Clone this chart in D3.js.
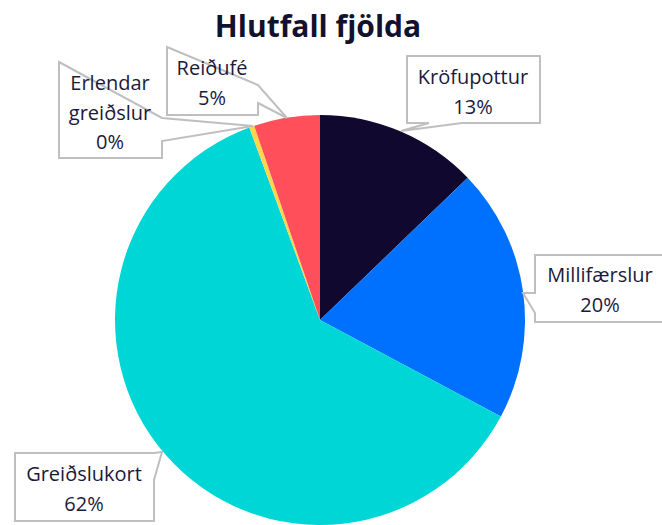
<!DOCTYPE html>
<html>
<head>
<meta charset="utf-8">
<script src="https://cdn.jsdelivr.net/npm/d3@7"></script>
<style>
  body { margin: 0; background: #fff; }
  svg { display: block; font-family: "Open Sans", Lato, sans-serif; }
</style>
</head>
<body>
<svg id="chart" width="662" height="525"></svg>
<script>
// -- data -- //
const categories = ["Kröfupottur", "Millifærslur", "Greiðslukort", "Erlendar greiðslur", "Reiðufé"];
const values = [12.8, 20.0, 61.6, 0.4, 5.2];
const colors = ["#10082e", "#0070ff", "#00d6d6", "#ffd54a", "#ff4f5a"];
const title = "Hlutfall fjölda";

const svg = d3.select("#chart");
const cx = 320, cy = 320, radius = 205;

// -- title -- //
svg.append("text")
  .attr("x", 318).attr("y", 37)
  .attr("text-anchor", "middle")
  .style("font-size", "30px").style("font-weight", "bold")
  .style("fill", "#12112e")
  .text(title);

// -- pie slices -- //
let data = categories.map((c, i) => ({ name: c, value: values[i], color: colors[i] }));
let pie = d3.pie().sort(null).value(d => d.value);
let arc = d3.arc().innerRadius(0).outerRadius(radius);
let total = d3.sum(values);
let fmt = d3.format(".0%");

svg.append("g")
  .attr("transform", `translate(${cx}, ${cy})`)
  .selectAll("path")
  .data(pie(data))
  .enter()
  .append("path")
  .attr("d", arc)
  .style("fill", d => d.data.color);

// -- callout boxes (layout only) -- //
// box: x, y, w, h ; tail: base points + tip ; text lines as split label
let callouts = [
  { box: [407, 56, 133, 67], tail: [[462, 123], [401, 131], [429, 123]], side: "bottom", lines: ["Kröfupottur"], cx: 473, y0: 84 },
  { box: [535, 255, 140, 67], tail: [[535, 293], [523, 293], [535, 313]], side: "left", lines: ["Millifærslur"], cx: 600, y0: 282 },
  { box: [15, 453, 139, 68], tail: [[154, 453], [162, 452], [154, 480]], side: "right", lines: ["Greiðslukort"], cx: 84, y0: 481 },
  { box: [59, 62, 103, 96], tail: [[162, 118], [253, 126], [162, 141]], side: "right", lines: ["Erlendar", "greiðslur"], cx: 110, y0: 90 },
  { box: [167, 47, 91, 68], tail: [[258, 85], [287, 118], [258, 103]], side: "right", lines: ["Reiðufé"], cx: 212, y0: 75 }
];

let calloutPath = c => {
  let [x, y, w, h] = c.box;
  let t = c.tail;
  let p = d3.path();
  p.moveTo(x, y);
  if (c.side === "left") {
    p.lineTo(x + w, y); p.lineTo(x + w, y + h); p.lineTo(x, y + h);
    p.lineTo(t[2][0], t[2][1]); p.lineTo(t[1][0], t[1][1]); p.lineTo(t[0][0], t[0][1]);
  } else if (c.side === "right") {
    p.lineTo(t[0][0], t[0][1]); p.lineTo(t[1][0], t[1][1]); p.lineTo(t[2][0], t[2][1]);
    p.lineTo(x + w, y + h); p.lineTo(x, y + h);
  } else {
    p.lineTo(x + w, y); p.lineTo(x + w, y + h);
    p.lineTo(t[0][0], t[0][1]); p.lineTo(t[1][0], t[1][1]); p.lineTo(t[2][0], t[2][1]);
    p.lineTo(x, y + h);
  }
  p.closePath();
  return p.toString();
};

let labelLayer = svg.append("g");
callouts.forEach((c, i) => {
  labelLayer.append("path")
    .attr("d", calloutPath(c))
    .style("fill", "#fff")
    .style("stroke", "#bfbfbf")
    .style("stroke-width", 2)
    .style("stroke-linejoin", "miter");
  let lines = c.lines.concat([fmt(values[i] / total)]);
  let txt = labelLayer.append("text")
    .attr("text-anchor", "middle")
    .style("font-size", "20px")
    .style("fill", "#1b1a3b");
  lines.forEach((l, j) => {
    txt.append("tspan").attr("x", c.cx).attr("y", c.y0 + j * 29.5).text(l);
  });
});
</script>
</body>
</html>
